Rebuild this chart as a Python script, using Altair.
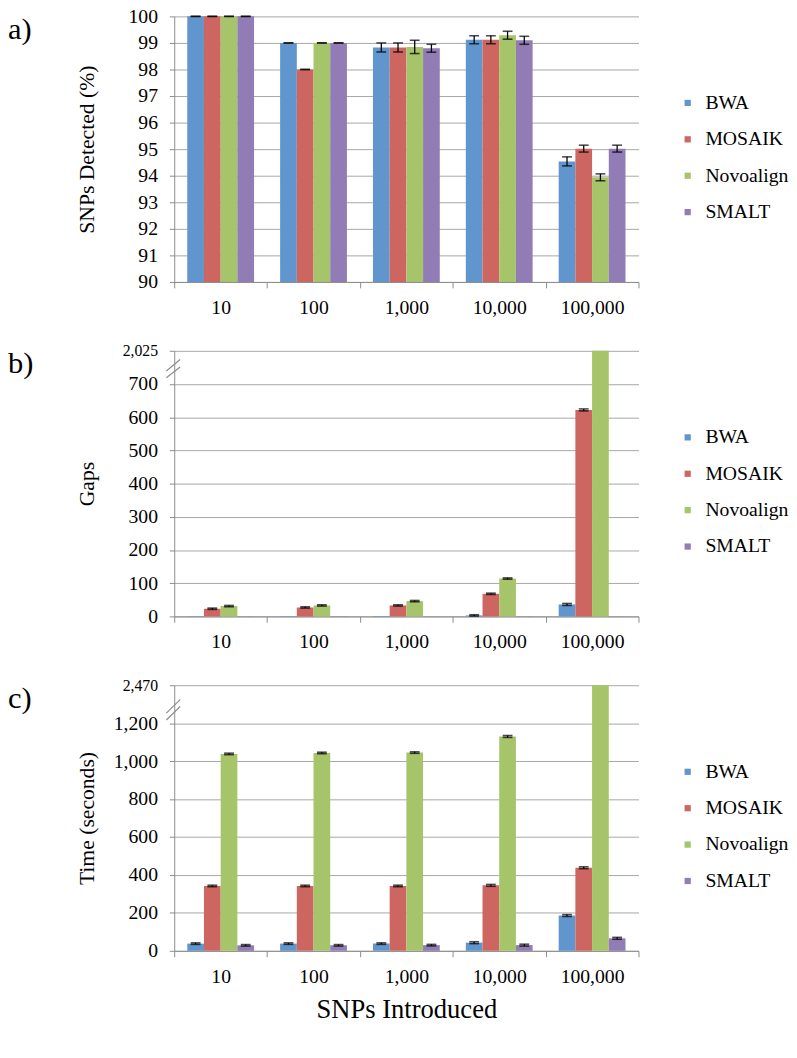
import altair as alt
import pandas as pd

cats = ["10", "100", "1,000", "10,000", "100,000"]
aligners = ["BWA", "MOSAIK", "Novoalign", "SMALT"]
colors = ["#6096CD", "#CD6661", "#A6C46A", "#917CB5"]

# Panel a: SNPs detected (%)
snp_bwa = [100, 99, 98.83, 99.12, 94.54]
snp_mosaik = [100, 98, 98.83, 99.12, 95.02]
snp_novo = [100, 99, 98.85, 99.29, 93.94]
snp_smalt = [100, 99, 98.80, 99.10, 95.02]
snp_err_bwa = [0, 0, 0.17, 0.15, 0.17]
snp_err_mosaik = [0, 0, 0.17, 0.15, 0.13]
snp_err_novo = [0, 0, 0.25, 0.15, 0.13]
snp_err_smalt = [0, 0, 0.15, 0.15, 0.13]

# Panel b: gaps
gap_bwa = [1, 1, 1, 3, 36]
gap_mosaik = [23, 27, 33, 68, 622]
gap_novo = [31, 33, 46, 114, 2025]
gap_smalt = [0.5, 0.5, 0.5, 0.5, 0.5]
gap_err = [2, 2, 2, 2, 3]

# Panel c: time (seconds)
t_bwa = [38, 38, 38, 43, 186]
t_mosaik = [342, 342, 342, 345, 438]
t_novo = [1038, 1043, 1045, 1130, 2470]
t_smalt = [29, 29, 30, 30, 66]
t_err = [4, 4, 4, 5, 5]

FONT = "Liberation Serif"
H = 270


def tidy(series, errs):
    rows = []
    for name, vals, er in zip(aligners, series, errs):
        for c, v, e in zip(cats, vals, er):
            rows.append({"cat": c, "aligner": name, "value": v, "err": e})
    return pd.DataFrame(rows)


def panel(df, domain, ticks, cap, label_expr, top_val, ytitle, xtitle,
          plabel, breaks, min_err_val, base):
    df = df.copy()
    df["yv"] = df["value"].clip(upper=cap)
    df["lo"] = df["yv"] - df["err"]
    df["hi"] = df["yv"] + df["err"]
    errdf = df[(df["value"] <= cap) & (df["value"] >= min_err_val)]

    xkw = dict(labelAngle=0, tickBand="extent", labelFont=FONT, titleFont=FONT,
               labelFontSize=20, titleFontSize=27)
    if xtitle is None:
        xaxis = alt.Axis(title=None, **xkw)
    else:
        xaxis = alt.Axis(title=xtitle, **xkw)
    ykw = dict(title=ytitle, values=ticks, labelExpr=label_expr, titleX=-89,
               titleBaseline="middle", labelFont=FONT, titleFont=FONT,
               titleFontSize=22)
    if top_val is not None:
        ykw["labelFontSize"] = {
            "condition": {"test": f"datum.value == {top_val}", "value": 16},
            "value": 20,
        }
    else:
        ykw["labelFontSize"] = 20
    yaxis = alt.Axis(**ykw)
    xscale = alt.Scale(paddingInner=0, paddingOuter=0)
    xoff = alt.XOffset("aligner:N", sort=aligners,
                       scale=alt.Scale(paddingInner=0, paddingOuter=0.78))
    yscale = alt.Scale(domain=domain, nice=False, zero=False)
    X = alt.X("cat:N", sort=cats, scale=xscale, axis=xaxis)

    bars = alt.Chart(df).mark_bar().encode(
        x=X,
        xOffset=xoff,
        y=alt.Y("yv:Q", scale=yscale, axis=yaxis),
        y2=alt.datum(base),
        color=alt.Color(
            "aligner:N", sort=aligners,
            scale=alt.Scale(domain=aligners, range=colors),
            legend=alt.Legend(title=None, orient="none", legendX=512, legendY=78,
                              labelFont=FONT, labelFontSize=20),
        ),
    )
    rules = alt.Chart(errdf).mark_rule(color="black", strokeWidth=1.3).encode(
        x=X, xOffset=xoff,
        y=alt.Y("lo:Q", scale=yscale, axis=yaxis), y2="hi:Q",
    )
    cap_lo = alt.Chart(errdf).mark_tick(color="black", size=10, thickness=1.6).encode(
        x=X, xOffset=xoff, y=alt.Y("lo:Q", scale=yscale, axis=yaxis),
    )
    cap_hi = alt.Chart(errdf).mark_tick(color="black", size=10, thickness=1.6).encode(
        x=X, xOffset=xoff, y=alt.Y("hi:Q", scale=yscale, axis=yaxis),
    )
    label = alt.Chart(pd.DataFrame({"t": [plabel]})).mark_text(
        font=FONT, fontSize=31, align="left", baseline="middle", color="black"
    ).encode(x=alt.value(-169), y=alt.value(14), text="t:N")

    layers = [bars, rules, cap_lo, cap_hi, label]
    if breaks is not None:
        bdf = pd.DataFrame(breaks, columns=["y0", "y1"])
        brk = alt.Chart(bdf).mark_rule(color="#8c8c8c", strokeWidth=1.2).encode(
            x=alt.value(-8), x2=alt.value(6),
            y=alt.Y("y0:Q", scale=yscale, axis=yaxis), y2="y1:Q",
        )
        layers.append(brk)
    return alt.layer(*layers).properties(width=472, height=H)


pa = panel(
    tidy([snp_bwa, snp_mosaik, snp_novo, snp_smalt],
         [snp_err_bwa, snp_err_mosaik, snp_err_novo, snp_err_smalt]),
    [90, 100], list(range(90, 101)), 1000, "datum.value", None,
    "SNPs Detected (%)", None, "a)", None, -1, 90,
)
pb = panel(
    tidy([gap_bwa, gap_mosaik, gap_novo, gap_smalt], [gap_err] * 4),
    [0, 800], list(range(0, 801, 100)), 800,
    "datum.value == 800 ? '2,025' : format(datum.value, ',')", 800,
    "Gaps", None, "b)", [[739, 774], [719, 751]], 1.5, 0,
)
pc = panel(
    tidy([t_bwa, t_mosaik, t_novo, t_smalt], [t_err] * 4),
    [0, 1400], list(range(0, 1401, 200)), 1400,
    "datum.value == 1400 ? '2,470' : format(datum.value, ',')", 1400,
    "Time (seconds)", "SNPs Introduced", "c)", [[1253, 1324], [1217, 1288]], 1.5, 0,
)

chart = alt.vconcat(pa, pb, pc, spacing=26).resolve_scale(
    color="independent"
).resolve_legend(color="independent").properties(
    padding={"left": 0, "top": -10, "right": 0, "bottom": 0}
).configure(
    font=FONT
).configure_view(
    stroke=None
).configure_axis(
    labelFont=FONT, labelFontSize=20, labelColor="black",
    titleFont=FONT, titleFontWeight="normal", titleColor="black",
    domainColor="#8c8c8c", tickColor="#8c8c8c", gridColor="#a6a6a6",
).configure_axisX(
    grid=False, labelPadding=10, tickSize=6, titleFontSize=27, titlePadding=11,
).configure_axisY(
    grid=True, labelPadding=12, tickSize=5, titleFontSize=22,
).configure_legend(
    symbolType="square", symbolSize=40, symbolStrokeWidth=0,
    labelFont=FONT, labelFontSize=20, labelColor="black",
    rowPadding=17, labelOffset=8, padding=0,
)

chart.save("out.html", embed_options={"renderer": "svg", "actions": False})
